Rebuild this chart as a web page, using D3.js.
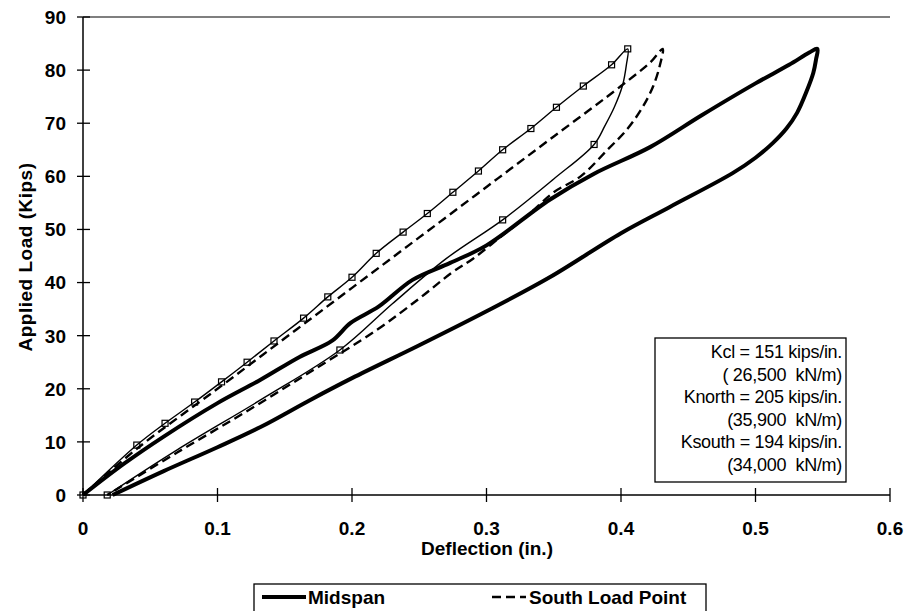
<!DOCTYPE html>
<html><head><meta charset="utf-8">
<script src="https://cdn.jsdelivr.net/npm/d3@7"></script>
<style>body{margin:0;background:#fff}svg{display:block}text{font-family:"Liberation Sans",Arial,sans-serif;fill:#000;white-space:pre}</style>
</head><body>
<svg id="c" width="907" height="611"></svg>
<script>
// ---- data ----
const xTicks = [0, 0.1, 0.2, 0.3, 0.4, 0.5, 0.6];
const yTicks = [0, 10, 20, 30, 40, 50, 60, 70, 80, 90];

// Midspan: loading then unloading loop
const midDefl = [0, 0.03, 0.06, 0.1, 0.132, 0.161, 0.185, 0.199, 0.22, 0.245, 0.273, 0.3, 0.347, 0.38, 0.4216, 0.46, 0.5, 0.525, 0.54, 0.546,
                 0.545, 0.543, 0.538, 0.531, 0.523, 0.513, 0.5, 0.483, 0.436, 0.4, 0.347, 0.3, 0.25, 0.2, 0.169, 0.132, 0.1, 0.06, 0.022];
const midLoad = [0, 5.8, 11, 17.3, 21.7, 26, 29, 32.4, 35.5, 40.5, 43.7, 47, 55.6, 60.5, 65.5, 71.5, 77.5, 81, 83.3, 84,
                 82, 79.5, 76, 72, 69, 66.3, 63.5, 60.6, 54.2, 49.3, 41, 34.6, 28.2, 22, 17.9, 12.8, 9, 4.5, 0];

// North load point: line path
const northDefl = [0, 0.04, 0.061, 0.083, 0.103, 0.122, 0.142, 0.164, 0.182, 0.2, 0.218, 0.238, 0.256, 0.275, 0.294, 0.312, 0.333, 0.352, 0.372, 0.393, 0.405,
                   0.404, 0.401, 0.395, 0.388, 0.38, 0.35, 0.312, 0.27, 0.23, 0.191, 0.132, 0.07, 0.018];
const northLoad = [0, 9.4, 13.5, 17.5, 21.3, 25, 29, 33.3, 37.3, 41, 45.5, 49.5, 53, 57, 61, 65, 69, 73, 77, 81, 84,
                   81, 77, 73, 69.5, 66, 59.5, 51.8, 44.5, 36, 27.3, 17.9, 8.5, 0];
// North load point: marker positions
const northMarkDefl = [0, 0.04, 0.061, 0.083, 0.103, 0.122, 0.142, 0.164, 0.182, 0.2, 0.218, 0.238, 0.256, 0.275, 0.294, 0.312, 0.333, 0.352, 0.372, 0.393, 0.405, 0.38, 0.312, 0.191, 0.018];
const northMarkLoad = [0, 9.4, 13.5, 17.5, 21.3, 25, 29, 33.3, 37.3, 41, 45.5, 49.5, 53, 57, 61, 65, 69, 73, 77, 81, 84, 66, 51.8, 27.3, 0];

// South load point loop
const southDefl = [0, 0.04, 0.1, 0.15, 0.2, 0.25, 0.3, 0.35, 0.4, 0.422, 0.431,
                   0.429, 0.424, 0.416, 0.405, 0.39, 0.37, 0.35, 0.33, 0.31, 0.29, 0.275, 0.25, 0.218, 0.171, 0.12, 0.07, 0.018];
const southLoad = [0, 8.7, 20, 29.5, 39, 48.5, 58, 67.5, 77, 81.5, 84,
                   81, 77, 73, 69, 65, 60, 57, 52.5, 48.5, 44.5, 42, 37, 31, 23.5, 15.5, 8, 0];

const boxLines = ["Kcl = 151 kips/in.", "( 26,500  kN/m)", "Knorth = 205 kips/in.", "(35,900  kN/m)", "Ksouth = 194 kips/in.", "(34,000  kN/m)"];
const legendNames = ["Midspan", "South Load Point", "North Load Point"];

// ---- layout ----
const svg = d3.select("#c");
const x = d3.scaleLinear().domain([0, 0.6]).range([83, 890]);
const y = d3.scaleLinear().domain([0, 90]).range([495, 17]);

// frame top line
svg.append("line").attr("x1", x(0)).attr("x2", x(0.6)).attr("y1", y(90)).attr("y2", y(90)).attr("stroke", "#000").attr("stroke-width", 1.2);

// axes
const yAxis = svg.append("g");
yAxis.append("line").attr("x1", x(0)).attr("x2", x(0)).attr("y1", y(0)).attr("y2", y(90)).attr("stroke", "#000").attr("stroke-width", 1.5);
yAxis.selectAll(".t").data(yTicks).enter().append("line")
  .attr("x1", x(0) - 6).attr("x2", x(0) + 7).attr("y1", d => y(d)).attr("y2", d => y(d)).attr("stroke", "#000").attr("stroke-width", 1.3);
yAxis.selectAll(".l").data(yTicks).enter().append("text")
  .attr("x", 66).attr("y", d => y(d)).attr("dy", "0.36em").attr("text-anchor", "end")
  .style("font-size", "19px").style("font-weight", "bold").text(d => d);

const xAxis = svg.append("g");
xAxis.append("line").attr("x1", x(0)).attr("x2", x(0.6)).attr("y1", y(0)).attr("y2", y(0)).attr("stroke", "#000").attr("stroke-width", 1.5);
xAxis.selectAll(".t").data(xTicks).enter().append("line")
  .attr("x1", d => x(d)).attr("x2", d => x(d)).attr("y1", y(0) - 7).attr("y2", y(0) + 7).attr("stroke", "#000").attr("stroke-width", 1.3);
xAxis.selectAll(".l").data(xTicks).enter().append("text")
  .attr("x", d => x(d)).attr("y", 535).attr("text-anchor", "middle")
  .style("font-size", "19px").style("font-weight", "bold").text(d => d === 0 ? "0" : d3.format(".1f")(d));

svg.append("text").attr("x", 487).attr("y", 555).attr("text-anchor", "middle")
  .style("font-size", "19px").style("font-weight", "bold").text("Deflection (in.)");
svg.append("text").attr("transform", "translate(32,257) rotate(-90)").attr("text-anchor", "middle")
  .style("font-size", "19px").style("font-weight", "bold").style("letter-spacing", "0.5px").text("Applied Load (Kips)");

// series
const line = d3.line().x(d => x(d[0])).y(d => y(d[1])).curve(d3.curveCatmullRom.alpha(0.5));
const mid = midDefl.map((d, i) => [d, midLoad[i]]);
const north = northDefl.map((d, i) => [d, northLoad[i]]);
const south = southDefl.map((d, i) => [d, southLoad[i]]);
const northMarks = northMarkDefl.map((d, i) => [d, northMarkLoad[i]]);

svg.append("path").attr("d", line(mid)).attr("fill", "none").attr("stroke", "#000").attr("stroke-width", 4).attr("stroke-linejoin", "round");
svg.append("path").attr("d", line(north)).attr("fill", "none").attr("stroke", "#000").attr("stroke-width", 1.4);
svg.append("path").attr("d", line(south)).attr("fill", "none").attr("stroke", "#000").attr("stroke-width", 2.4).attr("stroke-dasharray", "9,5");
svg.selectAll(".m").data(northMarks).enter().append("rect")
  .attr("x", d => x(d[0]) - 3).attr("y", d => y(d[1]) - 3).attr("width", 6).attr("height", 6)
  .attr("fill", "none").attr("stroke", "#000").attr("stroke-width", 1.2);

// text box
const bx0 = 655, by0 = 338, bx1 = 846, by1 = 482;
svg.append("rect").attr("x", bx0).attr("y", by0).attr("width", bx1 - bx0).attr("height", by1 - by0)
  .attr("fill", "#fff").attr("stroke", "#000").attr("stroke-width", 1.3);
svg.selectAll(".bt").data(boxLines).enter().append("text")
  .attr("x", 842).attr("y", (d, i) => 358 + i * 22.6).attr("text-anchor", "end")
  .style("font-size", "18px").style("letter-spacing", "-0.3px").text(d => d);

// legend
const lg = svg.append("g");
lg.append("rect").attr("x", 254).attr("y", 584).attr("width", 452).attr("height", 60)
  .attr("fill", "#fff").attr("stroke", "#000").attr("stroke-width", 1.3);
lg.append("line").attr("x1", 262).attr("x2", 306).attr("y1", 597).attr("y2", 597).attr("stroke", "#000").attr("stroke-width", 4);
lg.append("text").attr("x", 308).attr("y", 604).style("font-size", "19px").style("font-weight", "bold").text(legendNames[0]);
lg.append("line").attr("x1", 492).attr("x2", 526).attr("y1", 597).attr("y2", 597).attr("stroke", "#000").attr("stroke-width", 2.4).attr("stroke-dasharray", "9,5");
lg.append("text").attr("x", 529).attr("y", 604).style("font-size", "19px").style("font-weight", "bold").text(legendNames[1]);
lg.append("line").attr("x1", 262).attr("x2", 306).attr("y1", 620).attr("y2", 620).attr("stroke", "#000").attr("stroke-width", 1.4);
lg.append("text").attr("x", 308).attr("y", 629).style("font-size", "19px").style("font-weight", "bold").text(legendNames[2]);
</script>
</body></html>
